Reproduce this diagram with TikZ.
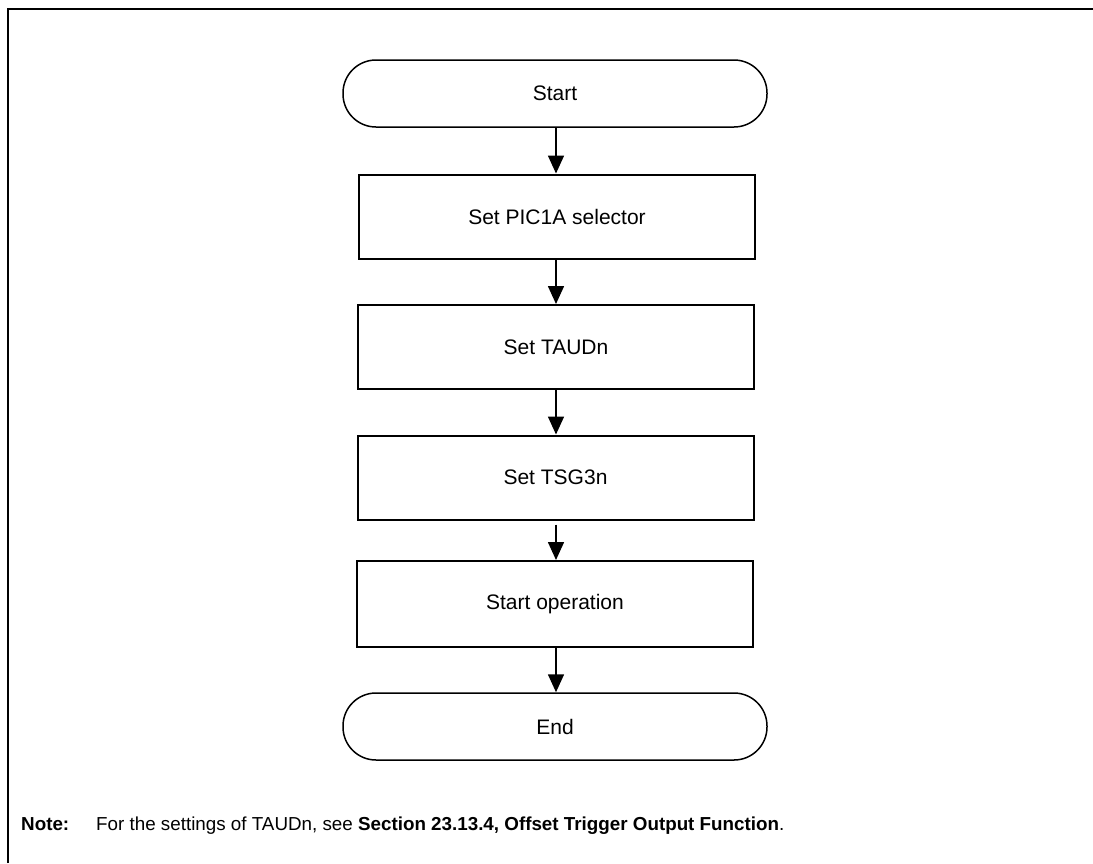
\documentclass[tikz,border=0pt]{standalone}
\usepackage{fontspec}
\setmainfont{Liberation Sans}
\usetikzlibrary{arrows.meta}
\begin{document}
\begin{tikzpicture}[x=1pt,y=-1pt,
  frameline/.style={line width=2.6pt},
  procbox/.style={draw,line width=2pt,minimum width=396pt,minimum height=84pt,inner sep=0pt,font=\fontsize{21}{25}\selectfont},
  termbox/.style={draw,line width=1.5pt,rounded corners=33pt,minimum width=424pt,minimum height=67pt,inner sep=0pt,font=\fontsize{21}{25}\selectfont},
  flow/.style={line width=1.6pt,-{Triangle[width=16pt,length=18pt]}},
  notefont/.style={inner sep=0pt,font=\fontsize{18.8}{22}\selectfont}]
\useasboundingbox (0,0) rectangle (1093,863);
\fill[white] (0,0) rectangle (1093,863);
\coordinate (fa) at (8,863);
\coordinate (fb) at (8,9);
\coordinate (fc) at (1093,9);
\draw[frameline] (fa) -- (fb) -- (fc);
\node[termbox] (start) at (555,93.5) {Start};
\node[procbox] (pic) at (557,216.5) {Set PIC1A selector};
\node[procbox] (taud) at (556,347) {Set TAUDn};
\node[procbox] (tsg) at (555.5,477.5) {Set TSG3n};
\node[procbox,minimum height=86pt] (op) at (555,604) {Start operation};
\node[termbox] (end) at (555,726.5) {End};
\coordinate (axis) at (556,0);
\draw[flow] (start.south -| axis) -- (pic.north -| axis);
\draw[flow] (pic.south -| axis) -- (taud.north -| axis);
\draw[flow] (taud.south -| axis) -- (tsg.north -| axis);
\draw[flow] ([yshift=-4pt]tsg.south -| axis) -- (op.north -| axis);
\draw[flow] (op.south -| axis) -- (end.north -| axis);
\node[notefont,anchor=base west] (notelabel) at (21,830) {\bfseries Note:};
\node[notefont,anchor=base west] (notetext) at (96,830) {For the settings of TAUDn, see \textbf{Section 23.13.4, Offset Trigger Output Function}.};
\end{tikzpicture}
\end{document}
